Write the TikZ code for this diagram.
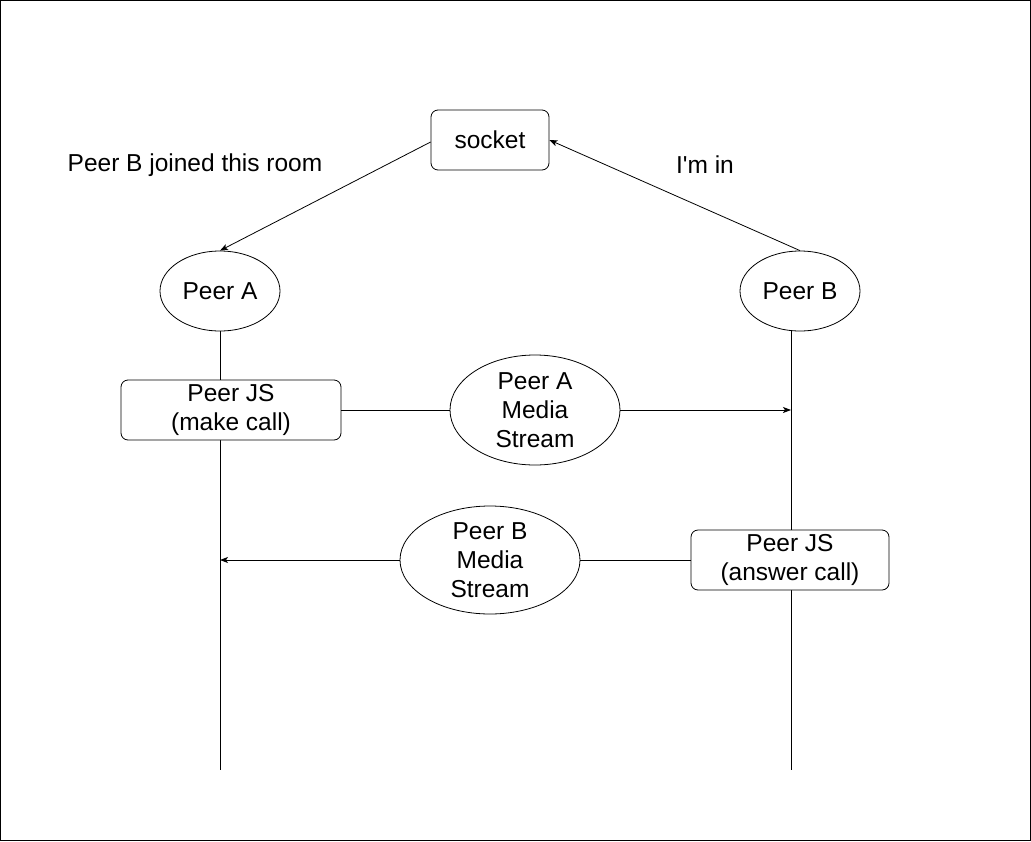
\documentclass[tikz,border=0pt]{standalone}
\usepackage{fontspec}
\newfontfamily\diagfont{Liberation Sans}
\usetikzlibrary{shapes.geometric,arrows.meta}
\begin{document}
\begin{tikzpicture}[x=1pt,y=-1pt,
  every node/.style={font=\diagfont\fontsize{24.5}{29}\selectfont, align=center, inner sep=0pt},
  rbox/.style={draw, rounded corners=7pt, fill=white, line width=0.8pt},
  oval/.style={draw, ellipse, fill=white, line width=0.8pt},
  conn/.style={line width=0.8pt},
  arr/.style={conn, -{Stealth[length=8pt,width=6pt,inset=2pt]}}
]
\draw[line width=1pt] (0.5,0.5) rectangle (1030.5,840.5);
\useasboundingbox (0,0) rectangle (1031,841);

% lifelines
\coordinate (aTop) at (220,331);
\coordinate (aEnd) at (220,770);
\coordinate (bTop) at (791,331);
\coordinate (bEnd) at (791,770);
\draw[conn] (aTop) -- (aEnd);
\draw[conn] (bTop) -- (bEnd);

\node[rbox, minimum width=118pt, minimum height=60pt] (socket) at (490,140) {socket};
\node[oval, minimum width=120pt, minimum height=80pt] (peerA) at (220,291) {Peer A};
\node[oval, minimum width=120pt, minimum height=80pt] (peerB) at (800,291) {Peer B};
\node[rbox, minimum width=220pt, minimum height=60pt] (jsA) at (231,410) {Peer JS\\(make call)};
\node[oval, minimum width=170pt, minimum height=110pt] (msA) at (535,410) {Peer A\\Media\\Stream};
\node[oval, minimum width=180pt, minimum height=108pt] (msB) at (490,560) {Peer B\\Media\\Stream};
\node[rbox, minimum width=198pt, minimum height=60pt] (jsB) at (790,560) {Peer JS\\(answer call)};

\node (lblA) at (195,165) {Peer B joined this room};
\node (lblB) at (705,165) {I'm in};

\coordinate (hitB) at (791,410);
\coordinate (hitA) at (220,560);

\draw[arr] (socket.west) ++(0,2) coordinate (sw) (sw) -- (peerA.north);
\draw[arr] (peerB.north) -- (socket.east);
\draw[conn] (jsA.east) -- (msA.west);
\draw[arr] (msA.east) -- (hitB);
\draw[conn] (jsB.west) -- (msB.east);
\draw[arr] (msB.west) -- (hitA);
\end{tikzpicture}
\end{document}
